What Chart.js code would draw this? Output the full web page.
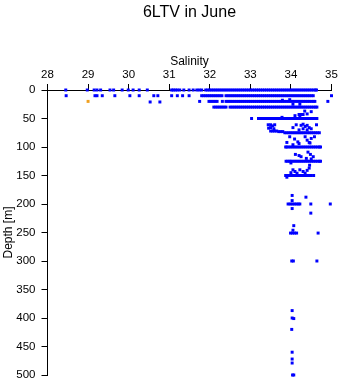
<!DOCTYPE html>
<html><head><meta charset="utf-8">
<script src="https://cdn.jsdelivr.net/npm/chart.js@4"></script>
<style>html,body{margin:0;padding:0;background:#fff}#wrap{width:341px;height:384px}</style>
</head><body><div id="wrap"><canvas id="c" width="341" height="384"></canvas></div>
<script>
// ---- Tick labels ----
const salinityTicks = [28, 29, 30, 31, 32, 33, 34, 35];
const depthTicks = [0, 50, 100, 150, 200, 250, 300, 350, 400, 450, 500];

// ---- Blue cast readings, grouped by sampled depth (m) ----
const depthLevels = [0, 10, 20, 30, 50, 75, 100, 125, 150];
const sal0 = [28.45, 28.98, 29.15, 29.22, 29.31, 29.54, 29.63, 29.84, 29.99, 30.11, 30.26, 30.46,
  31.06, 31.1, 31.15, 31.2, 31.26, 31.36, 31.49, 31.59, 31.68, 31.74, 31.8,
  31.9, 31.95, 32.0, 32.05, 32.1, 32.15, 32.2, 32.25, 32.3, 32.35, 32.4, 32.45, 32.5, 32.55, 32.6, 32.65,
  32.7, 32.75, 32.8, 32.85, 32.9, 32.95, 33.0, 33.05, 33.1, 33.15, 33.2, 33.25, 33.3, 33.35, 33.4, 33.45,
  33.5, 33.55, 33.6, 33.65, 33.7, 33.75, 33.8, 33.85, 33.9, 33.95, 34.0, 34.05, 34.1, 34.15, 34.2, 34.25,
  34.3, 34.35, 34.4, 34.45, 34.5, 34.55, 34.6, 34.63];
const sal10 = [28.46, 29.17, 29.22, 29.35, 29.66, 30.03, 30.26, 30.62, 30.72, 31.06, 31.2, 31.33, 31.49,
  31.8, 31.85, 31.9, 31.95, 32.0, 32.05, 32.1, 32.15, 32.2, 32.25, 32.3,
  32.4, 32.45, 32.5, 32.55, 32.6, 32.65, 32.7, 32.75, 32.8, 32.85, 32.9, 32.95, 33.0, 33.05, 33.1, 33.15,
  33.2, 33.25, 33.3, 33.35, 33.4, 33.45, 33.5, 33.55, 33.6, 33.65, 33.7, 33.75, 33.8, 33.85, 33.9, 33.95,
  34.0, 34.05, 34.1, 34.15, 34.2, 34.25, 34.3, 34.35, 34.4, 34.45, 34.5, 34.55, 35.0];
const sal20 = [31.75, 31.98, 32.03, 32.08, 32.13, 32.18, 32.31,
  32.4, 32.45, 32.5, 32.55, 32.6, 32.65, 32.7, 32.75, 32.8, 32.85, 32.9, 32.95, 33.0, 33.05, 33.1, 33.15,
  33.2, 33.25, 33.3, 33.35, 33.4, 33.45, 33.5, 33.55, 33.6, 33.65, 33.7, 33.75, 33.8, 33.85, 33.9, 33.95,
  34.0, 34.05, 34.1, 34.15, 34.2, 34.25, 34.3, 34.35, 34.4, 34.45, 34.5, 34.55, 34.59, 34.91];
const sal30 = [32.1, 32.15, 32.2, 32.25, 32.3, 32.35, 32.4,
  32.5, 32.55, 32.6, 32.65, 32.7, 32.75, 32.8, 32.85, 32.9, 32.95, 33.0, 33.05, 33.1, 33.15,
  33.2, 33.25, 33.3, 33.35, 33.4, 33.45, 33.5, 33.55, 33.6, 33.65, 33.7, 33.75, 33.8, 33.85, 33.9, 33.95,
  34.0, 34.05, 34.1, 34.15, 34.2, 34.25, 34.3, 34.35, 34.4, 34.45, 34.5, 34.55, 34.6, 34.64];
const sal50 = [33.03, 33.2, 33.25, 33.3, 33.35, 33.4, 33.45, 33.5, 33.55, 33.6, 33.65, 33.7, 33.75, 33.8,
  33.85, 33.9, 33.95, 34.0, 34.05, 34.1, 34.15, 34.2, 34.25, 34.3, 34.35, 34.4, 34.45, 34.5, 34.55, 34.6, 34.64];
const sal75 = [33.85, 33.9, 33.95, 34.0, 34.05, 34.1, 34.15, 34.2, 34.25, 34.3, 34.35, 34.4, 34.45, 34.5,
  34.55, 34.6, 34.65, 34.7];
const sal100 = [33.87, 33.9, 33.95, 34.0, 34.05, 34.1, 34.15, 34.2, 34.25, 34.3, 34.35, 34.4, 34.45, 34.5,
  34.55, 34.6, 34.65, 34.7, 34.73];
const sal125 = [33.88, 33.92, 33.97, 34.0, 34.05, 34.1, 34.15, 34.2, 34.25, 34.3, 34.35, 34.4, 34.45, 34.5,
  34.55, 34.6, 34.65, 34.7, 34.73];
const sal150 = [33.87, 33.9, 33.95, 34.0, 34.05, 34.1, 34.15, 34.2, 34.25, 34.3, 34.35, 34.4, 34.45, 34.5, 34.56];

// ---- Other blue readings (salinity / depth pairs) ----
const extraSal = [30.53, 30.77, 33.79, 33.97, 34.05, 34.22,
  34.34, 34.5, 34.2, 34.25, 34.3, 34.22, 33.78, 34.1, 34.4,
  33.44, 33.5, 33.55, 33.6, 33.45, 33.5, 33.58, 33.5, 33.55, 33.6, 33.65, 33.7, 33.75, 33.8,
  34.13, 34.25, 34.3, 34.35, 34.4, 34.45, 34.3, 34.2, 34.4, 34.5, 34.63, 34.05,
  33.97, 34.09, 34.17, 34.35, 34.4, 34.45, 34.5, 34.58, 34.47, 33.9, 34.2, 34.05,
  34.11, 34.2, 34.25, 34.42, 34.48, 34.55, 34.5, 34.38, 34.0,
  34.46, 34.05, 34.1, 34.0, 34.22, 34.3, 34.35, 34.4, 34.15, 34.45, 33.9,
  34.03, 34.37, 34.03, 33.93, 33.98, 34.03, 34.08, 34.13, 34.18, 34.22, 34.49, 34.97, 34.03, 34.49,
  34.07, 34.05, 33.99, 34.04, 34.09, 34.14, 34.67, 34.02, 34.06, 34.64,
  34.03, 34.03, 34.07, 34.02, 34.03, 34.03, 34.03, 34.04, 34.07];
const extraDepth = [21, 21, 18, 17, 25, 25,
  37, 38, 43, 43, 43, 46, 48, 45, 42,
  61, 61, 63, 61, 67, 66, 68, 72, 72, 72, 72, 73, 73, 73,
  61, 62, 60, 64, 62, 66, 68, 70, 70, 68, 61, 66,
  82, 86, 91, 82, 88, 92, 85, 82, 93, 92, 94, 96,
  113, 115, 117, 109, 113, 117, 121, 120, 128,
  132, 140, 143, 145, 140, 143, 146, 141, 146, 137, 153,
  185, 188, 194, 200, 200, 200, 200, 200, 200, 200, 200, 200, 208, 216,
  238, 246, 251, 251, 251, 251, 251, 300, 300, 300,
  387, 400, 401, 420, 460, 472, 479, 500, 500];

// ---- Orange cast ----
const orangeSal = [29.0];
const orangeDepth = [20];

const rowSal = [sal0, sal10, sal20, sal30, sal50, sal75, sal100, sal125, sal150];
const bluePoints = [];
depthLevels.forEach((d, i) => rowSal[i].forEach(s => bluePoints.push({x: s, y: d})));
extraSal.forEach((s, i) => bluePoints.push({x: s, y: extraDepth[i]}));
const orangePoints = orangeSal.map((s, i) => ({x: s, y: orangeDepth[i]}));

const FONT = 'Liberation Sans, Arial, Helvetica, sans-serif';
Chart.defaults.color = '#000';
Chart.defaults.font.family = FONT;

const axisCommon = {
  grid: {drawOnChartArea: false, drawTicks: true, tickLength: 6, color: '#000', tickColor: '#000', lineWidth: 1},
  border: {display: true, color: '#000', width: 1}
};

new Chart(document.getElementById('c'), {
  type: 'scatter',
  data: {
    datasets: [
      {data: bluePoints, backgroundColor: '#0000ff', borderWidth: 0, pointStyle: 'rect', pointRadius: 2.1, clip: false},
      {data: orangePoints, backgroundColor: '#f0a020', borderWidth: 0, pointStyle: 'rect', pointRadius: 2.1, clip: false}
    ]
  },
  options: {
    responsive: false,
    animation: false,
    devicePixelRatio: 1,
    events: [],
    layout: {padding: {left: 0, top: 0, right: 9.5, bottom: 9}},
    plugins: {
      legend: {display: false},
      tooltip: {enabled: false},
      title: {display: true, text: '6LTV in June', fullSize: false, color: '#000',
        padding: {top: 3, bottom: 0}, font: {size: 16, weight: 'normal', family: FONT, lineHeight: 1.25}}
    },
    scales: {
      x: Object.assign({}, axisCommon, {
        type: 'linear', position: 'top', min: 28, max: 35,
        afterBuildTicks: s => { s.ticks = salinityTicks.map(v => ({value: v})); },
        ticks: {padding: 2, color: '#000', font: {size: 11.5, family: FONT}},
        title: {display: true, text: 'Salinity', color: '#000', padding: {top: 31, bottom: 0}, font: {size: 12, family: FONT}},
        afterFit: s => { s.height = 67; s.paddingLeft = 0; s.paddingRight = 0; }
      }),
      y: Object.assign({}, axisCommon, {
        type: 'linear', reverse: true, min: 0, max: 500,
        afterBuildTicks: s => { s.ticks = depthTicks.map(v => ({value: v})); },
        ticks: {padding: 6, color: '#000', font: {size: 11.5, family: FONT}},
        title: {display: true, text: 'Depth [m]', color: '#000', padding: {top: 1, bottom: 0}, font: {size: 12, family: FONT}},
        afterFit: s => { s.width = 47.5; s.paddingTop = 0; s.paddingBottom = 0; }
      })
    }
  }
});
</script>
</body></html>
